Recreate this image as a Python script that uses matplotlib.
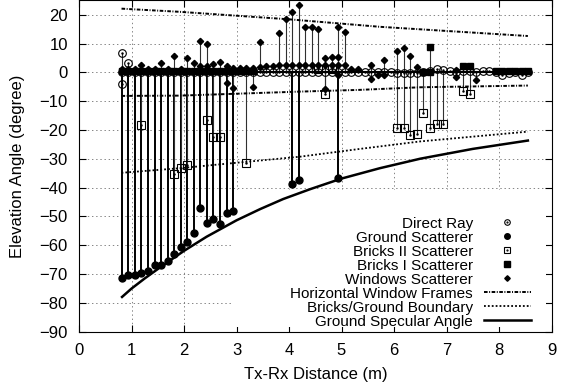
import matplotlib
matplotlib.use("Agg")
import matplotlib.pyplot as plt
from matplotlib.lines import Line2D
from matplotlib.patches import Rectangle
from matplotlib.legend_handler import HandlerTuple

plt.rcParams['font.family'] = ['Liberation Sans', 'DejaVu Sans']
plt.rcParams['lines.scale_dashes'] = False

# Tx-Rx measurement positions (m)
positions = [0.81, 0.94, 1.06, 1.19, 1.31, 1.44, 1.56, 1.69, 1.81, 1.94,
             2.06, 2.19, 2.31, 2.44, 2.56, 2.69, 2.81, 2.94, 3.06, 3.19,
             3.31, 3.44, 3.56, 3.69, 3.81, 3.94, 4.06, 4.19, 4.31, 4.44,
             4.56, 4.69, 4.81, 4.94, 5.06, 5.19, 5.31, 5.44, 5.56, 5.69,
             5.81, 5.94, 6.06, 6.19, 6.31, 6.44, 6.56, 6.69, 6.81, 6.94,
             7.06, 7.19, 7.31, 7.44, 7.56, 7.69, 7.81, 7.94, 8.06, 8.19,
             8.31, 8.44, 8.56]

# Direct ray elevation (degree)
direct_x = positions + [0.81, 0.81, 0.94]
direct_y = [0.0, 0.0, 0.0, 0.0, 0.0, 0.0, 0.0, 0.0, 0.0, 0.0,
            0.0, 0.0, 0.0, 0.0, 0.0, 0.0, 0.0, 0.0, 0.0, 0.0,
            0.0, 0.0, 0.0, 0.0, 0.0, 0.0, 0.0, 0.0, 0.0, 0.0,
            0.0, 0.0, 0.0, 0.0, 0.0, 0.0, 0.0, 0.0, 0.0, 0.0,
            0.0, 0.0, -0.3, -0.3, -0.2, -0.2, 0.2, 0.5, 1.2, 0.9,
            0.3, 0.2, 0.5, 0.5, 0.2, 0.4, 0.3, 0.2, -0.8, -0.2,
            0.0, -1.0, 0.0] + [6.7, -4.2, 3.4]

# Ground scatterer
ground_x = [0.81, 0.94, 1.06, 1.19, 1.31, 1.44, 1.56, 1.69, 1.81, 1.94,
            2.06, 2.19, 2.31, 2.44, 2.56, 2.69, 2.81, 2.94, 4.06, 4.19, 4.94]
ground_y = [-71.5, -70.4, -70.3, -69.7, -68.9, -66.8, -66.8, -65.6, -63.2, -60.8,
            -58.8, -55.7, -47.0, -52.4, -50.8, -52.7, -49.0, -48.2, -38.8, -37.4, -36.8]

# Bricks II scatterer
bricks2_x = [1.19, 1.81, 1.94, 2.06, 2.44, 2.56, 2.69, 3.19, 4.56, 4.69, 4.81,
             6.06, 6.19, 6.31, 6.44, 6.56, 6.69, 6.81, 6.94, 7.31, 7.44]
bricks2_y = [-18.4, -35.2, -33.3, -32.2, -16.6, -22.6, -22.4, -31.5, 1.2, -7.6, 1.0,
             -19.3, -19.3, -21.7, -21.4, -14.2, -19.4, -18.0, -18.0, -6.6, -7.4]

# Bricks I scatterer
bricks1_x = [0.81, 0.94, 1.06, 1.19, 1.31, 1.44, 1.56, 1.69, 1.81, 1.94,
             2.06, 2.19, 2.31, 2.44, 2.56, 2.69, 2.81, 2.94, 3.06, 3.19, 3.31,
             6.56, 6.69, 6.69, 7.31, 7.44, 7.94, 8.06, 8.19, 8.31, 8.44, 8.56]
bricks1_y = [0.6, 0.5, 0.5, 0.6, 0.5, 0.5, 0.6, 0.5, 0.5, 0.6,
             0.5, 0.5, 0.6, 0.5, 0.5, 0.6, 0.5, 0.5, 0.4, 0.5, 0.5,
             0.0, 0.0, 8.9, 2.2, 2.2, 0.6, 0.6, 0.6, 0.3, 0.3, 0.3]

# Windows scatterer
windows_x = [0.81, 0.94, 1.06, 1.19, 1.31, 1.44, 1.56, 1.69, 1.81, 1.94,
             2.06, 2.19, 2.31, 2.31, 2.44, 2.44, 2.56, 2.69, 2.81, 2.81,
             2.94, 2.94, 3.06, 3.19, 3.31, 3.31, 3.44, 3.44, 3.56, 3.69,
             3.81, 3.81, 3.94, 3.94, 4.06, 4.06, 4.19, 4.19, 4.31, 4.31,
             4.44, 4.44, 4.56, 4.56, 4.69, 4.69, 4.69, 4.81, 4.81, 4.94,
             4.94, 4.94, 4.94, 5.06, 5.06, 5.19, 5.31, 5.56, 5.56, 5.69,
             5.81, 5.81, 6.06, 6.19, 6.31, 6.44, 7.19, 7.19, 7.56]
windows_y = [1.0, 1.2, 1.0, 2.5, 1.2, 1.0, 3.1, 1.2, 5.5, 1.0,
             5.0, 3.4, 11.0, 2.3, 9.9, 2.3, 2.8, 3.5, 2.2, -3.8,
             1.6, -5.3, 1.4, 1.6, 1.6, -5.2, 10.4, 1.8, 2.2, 2.2,
             13.6, 2.4, 18.6, 2.4, 20.9, 2.4, 23.3, 2.4, 15.6, 2.4,
             15.6, 2.4, 15.1, 2.4, 4.8, 2.4, -5.9, 5.2, 2.4, 15.6,
             5.4, 2.4, -0.9, 14.0, 2.4, 1.2, 1.3, 2.4, -2.4, -0.8,
             4.4, -0.8, 7.4, 8.3, 5.7, 1.7, -1.8, 0.8, -2.6]

# Horizontal window frames (upper and lower edges)
frame_hi_x = [0.81, 1.92, 4.0, 5.73, 8.55]
frame_hi_y = [22.1, 21.0, 18.4, 15.8, 12.6]
frame_lo_x = [0.81, 1.92, 4.21, 5.35, 6.5, 8.55]
frame_lo_y = [-8.2, -8.1, -6.7, -6.1, -5.2, -4.6]

# Bricks/ground boundary
boundary_x = [0.81, 1.92, 4.21, 5.35, 6.5, 8.55]
boundary_y = [-34.9, -33.3, -29.3, -26.6, -24.0, -20.6]

# Ground specular angle
specular_x = [0.82, 1.0, 1.25, 1.54, 2.0, 2.43, 3.0, 3.45, 3.89, 4.4,
              5.0, 5.73, 6.5, 7.5, 8.55]
specular_y = [-78.0, -75.1, -71.6, -67.8, -62.0, -57.1, -51.4, -47.5, -44.0, -40.6,
              -36.9, -33.3, -30.0, -26.6, -23.7]

fig = plt.figure(figsize=(5.68, 3.92), dpi=100)
ax = fig.add_axes([79 / 568, (392 - 331.5) / 392, 472.5 / 568, 331.2 / 392])
ax.set_xlim(0, 9)
ax.set_ylim(-90, 25)
ax.set_xticks(range(0, 10))
ax.set_yticks(range(-90, 21, 10))
ax.tick_params(direction='in', top=True, right=True, length=5, width=0.8,
               labelsize=12, pad=8)
for sp in ax.spines.values():
    sp.set_linewidth(0.8)
ax.set_axisbelow(True)
ax.grid(True, linestyle=(0, (1, 2)), color='#707070', linewidth=0.6)

# blank area behind the key
tx = 5 / 472.5
ty = 5 / 331.2
ax.add_patch(Rectangle((0.324, ty), 1 - 0.324 - tx, 0.427 - ty,
                       transform=ax.transAxes, facecolor='white',
                       edgecolor='none', zorder=1))

stem_kw = dict(colors='#303030', linewidth=0.8, zorder=2)
ax.vlines(direct_x, 0, direct_y, **stem_kw)
ax.vlines(ground_x, 0, ground_y, colors='black', linewidth=1.4, zorder=2)
ax.vlines(bricks2_x, 0, bricks2_y, **stem_kw)
ax.vlines(bricks1_x, 0, bricks1_y, **stem_kw)
ax.vlines(windows_x, 0, windows_y, **stem_kw)
ax.hlines(0, positions[0], positions[-1], colors='black', linewidth=1.5, zorder=2)

ax.plot(direct_x, direct_y, ls='none', marker='o', ms=5.5, mfc='none', mec='black',
        mew=0.8, zorder=3)
ax.plot(direct_x, direct_y, ls='none', marker='.', ms=1.5, color='black', zorder=3)
ax.plot(ground_x, ground_y, ls='none', marker='o', ms=5.0, color='black', zorder=3)
ax.plot(bricks2_x, bricks2_y, ls='none', marker='s', ms=5.2, mfc='none', mec='black',
        mew=0.8, zorder=3)
ax.plot(bricks2_x, bricks2_y, ls='none', marker='.', ms=1.5, color='black', zorder=3)
ax.plot(bricks1_x, bricks1_y, ls='none', marker='s', ms=5.0, color='black', zorder=3)
ax.plot(windows_x, windows_y, ls='none', marker='D', ms=3.2, color='black', zorder=3)

frame_style = (0, (2.6, 1.1, 0.7, 1.1))
dot_style = (0, (1.3, 1.5))
ax.plot(frame_hi_x, frame_hi_y, color='black', lw=1.4, ls=frame_style, zorder=4)
ax.plot(frame_lo_x, frame_lo_y, color='black', lw=1.4, ls=frame_style, zorder=4)
ax.plot(boundary_x, boundary_y, color='black', lw=1.3, ls=dot_style, zorder=4)
ax.plot(specular_x, specular_y, color='black', lw=1.8, zorder=4)

# key
h_direct = (Line2D([], [], ls='none', marker='o', ms=4, mfc='none', mec='black', mew=0.8),
            Line2D([], [], ls='none', marker='.', ms=1.2, color='black'))
h_ground = Line2D([], [], ls='none', marker='o', ms=4, color='black')
h_b2 = (Line2D([], [], ls='none', marker='s', ms=3.8, mfc='none', mec='black', mew=0.8),
        Line2D([], [], ls='none', marker='.', ms=1.2, color='black'))
h_b1 = Line2D([], [], ls='none', marker='s', ms=4, color='black')
h_win = Line2D([], [], ls='none', marker='D', ms=2.8, color='black')
h_frame = Line2D([], [], color='black', lw=1.4, ls=frame_style)
h_bound = Line2D([], [], color='black', lw=1.3, ls=dot_style)
h_spec = Line2D([], [], color='black', lw=1.8)

labels = ['Direct Ray', 'Ground Scatterer', 'Bricks II Scatterer', 'Bricks I Scatterer',
          'Windows Scatterer', 'Horizontal Window Frames', 'Bricks/Ground Boundary',
          'Ground Specular Angle']
leg = ax.legend([h_direct, h_ground, h_b2, h_b1, h_win, h_frame, h_bound, h_spec],
                labels, loc='lower right', bbox_to_anchor=(0.9566, 0.009),
                frameon=False, markerfirst=False, fontsize=11, borderpad=0,
                borderaxespad=0, handlelength=3.08, handletextpad=0.72,
                labelspacing=0.0, numpoints=1,
                handler_map={tuple: HandlerTuple(ndivide=1)})
leg.set_zorder(5)

fig.text(315.5 / 568, 1 - 374 / 392, 'Tx-Rx Distance (m)', ha='center', va='center',
         fontsize=12)
fig.text(18 / 568, 1 - 166 / 392, 'Elevation Angle (degree)', ha='center', va='center',
         rotation=90, fontsize=12)

fig.savefig('out.png', dpi=100)
